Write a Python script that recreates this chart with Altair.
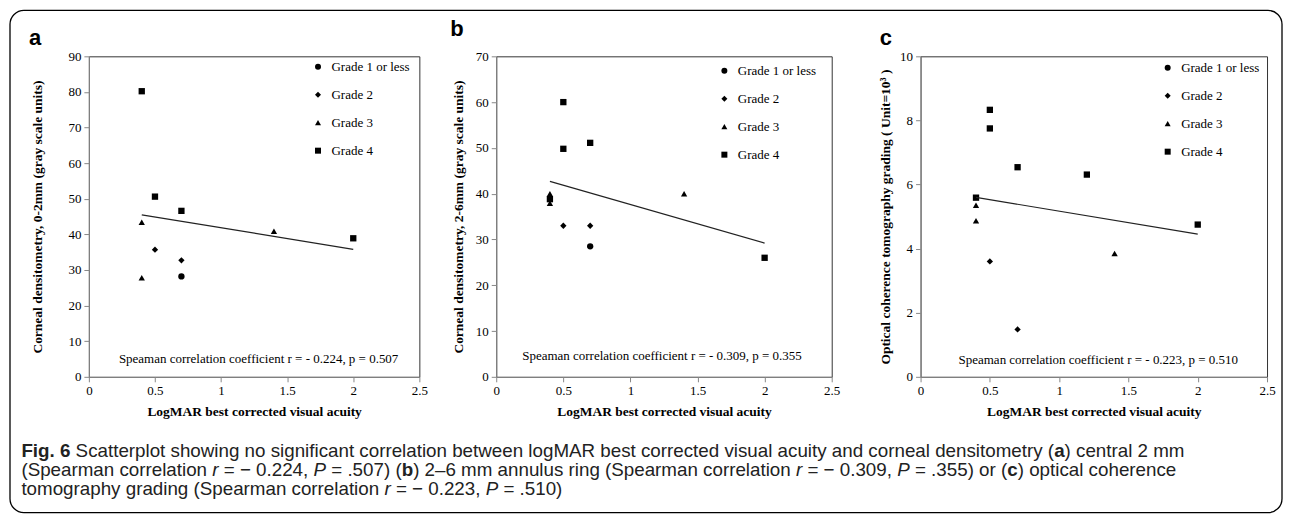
import altair as alt
import pandas as pd

GRADES = ["Grade 1 or less", "Grade 2", "Grade 3", "Grade 4"]
SHAPES = ["circle", "diamond", "triangle-up", "square"]
X_TICKS = [0, 0.5, 1, 1.5, 2, 2.5]
X_TITLE = "LogMAR  best corrected visual acuity"

# ---- panel a : corneal densitometry 0-2 mm
A_X = [0.7, 0.5, 0.7, 0.4, 0.4, 1.4, 0.4, 0.5, 0.7, 2.0]
A_Y = [28.2, 35.7, 32.7, 43.4, 27.8, 40.9, 80.2, 50.6, 46.6, 38.9]
A_G = ["Grade 1 or less", "Grade 2", "Grade 2", "Grade 3", "Grade 3", "Grade 3",
       "Grade 4", "Grade 4", "Grade 4", "Grade 4"]
A_FIT_X = [0.4, 2.0]
A_FIT_Y = [45.5, 35.8]
A_YTICKS = [0, 10, 20, 30, 40, 50, 60, 70, 80, 90]
A_YTITLE = "Corneal densitometry, 0-2mm (gray scale units)"
A_NOTE = "Speaman correlation coefficient  r = - 0.224, p = 0.507"

# ---- panel b : corneal densitometry 2-6 mm
B_X = [0.7, 0.5, 0.7, 0.4, 0.4, 1.4, 0.5, 0.5, 0.7, 0.4, 2.0]
B_Y = [28.5, 33.0, 33.0, 40.0, 37.9, 40.0, 60.0, 49.8, 51.1, 38.8, 26.0]
B_G = ["Grade 1 or less", "Grade 2", "Grade 2", "Grade 3", "Grade 3", "Grade 3",
       "Grade 4", "Grade 4", "Grade 4", "Grade 4", "Grade 4"]
B_FIT_X = [0.4, 2.0]
B_FIT_Y = [42.7, 29.2]
B_YTICKS = [0, 10, 20, 30, 40, 50, 60, 70]
B_YTITLE = "Corneal densitometry, 2-6mm (gray scale units)"
B_NOTE = "Speaman correlation coefficient  r = - 0.309, p = 0.355"

# ---- panel c : OCT grading
C_X = [0.5, 0.7, 0.4, 0.4, 1.4, 0.5, 0.5, 0.7, 1.2, 0.4, 2.0]
C_Y = [3.6, 1.48, 5.35, 4.87, 3.85, 8.33, 7.75, 6.54, 6.31, 5.59, 4.75]
C_G = ["Grade 2", "Grade 2", "Grade 3", "Grade 3", "Grade 3",
       "Grade 4", "Grade 4", "Grade 4", "Grade 4", "Grade 4", "Grade 4"]
C_FIT_X = [0.4, 2.0]
C_FIT_Y = [5.6, 4.45]
C_YTICKS = [0, 2, 4, 6, 8, 10]
C_YTITLE = "Optical coherence tomography  grading ( Unit=10\u00b3 )"
C_NOTE = "Speaman correlation coefficient  r = - 0.223, p = 0.510"

CAPTION = [
    [("b", "Fig. 6"),
     ("r", " Scatterplot showing no significant correlation between logMAR best corrected visual acuity and corneal densitometry ("),
     ("b", "a"), ("r", ") central 2 mm")],
    [("r", "(Spearman correlation "), ("i", "r"), ("r", " = \u2212 0.224, "), ("i", "P"),
     ("r", " = .507) ("), ("b", "b"),
     ("r", ") 2\u20136 mm annulus ring (Spearman correlation "), ("i", "r"),
     ("r", " = \u2212 0.309, "), ("i", "P"), ("r", " = .355) or ("), ("b", "c"),
     ("r", ") optical coherence")],
    [("r", "tomography grading (Spearman correlation "), ("i", "r"),
     ("r", " = \u2212 0.223, "), ("i", "P"), ("r", " = .510)")],
]

SERIF = "Liberation Serif"
SANS = "Liberation Sans"

# Arial / Liberation Sans advance widths (1/1000 em) for caption layout
REG_W = {" ": 278, "(": 333, ")": 333, ",": 278, "-": 333, ".": 278, "=": 584,
         "\u2013": 556, "\u2212": 584,
         "A": 667, "B": 667, "C": 722, "D": 722, "E": 667, "F": 611, "G": 778, "H": 722,
         "I": 278, "L": 556, "M": 833, "P": 667, "R": 722, "S": 667, "T": 611,
         "a": 556, "b": 556, "c": 500, "d": 556, "e": 556, "f": 278, "g": 556, "h": 556,
         "i": 222, "j": 222, "k": 500, "l": 222, "m": 833, "n": 556, "o": 556, "p": 556,
         "q": 556, "r": 333, "s": 500, "t": 278, "u": 556, "v": 500, "w": 722, "x": 500,
         "y": 500, "z": 500}
for d in "0123456789":
    REG_W[d] = 556
BOLD_W = dict(REG_W)
BOLD_W.update({"F": 611, "i": 278, "g": 611, "a": 556, "b": 611, "c": 556})


def em(text, style):
    tbl = BOLD_W if style == "b" else REG_W
    return sum(tbl.get(ch, 556) for ch in text) / 1000.0


LABEL_EXPR = "'' + datum.value"


def panel(px, py, pg, fx, fy, yticks, ytitle, note, w, h, tpad, leg, letter, let_xy,
          note_xy, extra=()):
    pts_df = pd.DataFrame({"x": px, "y": py, "grade": pg})
    fit_df = pd.DataFrame({"x": fx, "y": fy})
    xs = alt.Scale(domain=[0, 2.5], nice=False, zero=False)
    ys = alt.Scale(domain=[yticks[0], yticks[-1]], nice=False)
    xa = alt.Axis(values=X_TICKS, labelExpr=LABEL_EXPR, title=X_TITLE, labelFlush=False,
                  labelOverlap=False, titlePadding=7)
    ya = alt.Axis(values=yticks, labelExpr=LABEL_EXPR, title=ytitle, labelFlush=False,
                  labelOverlap=False, labelBound=False, tickCount=len(yticks),
                  titlePadding=tpad)
    pts = alt.Chart(pts_df).mark_point(filled=True, color="black", opacity=1, size=40).encode(
        x=alt.X("x:Q", scale=xs, axis=xa),
        y=alt.Y("y:Q", scale=ys, axis=ya),
        shape=alt.Shape("grade:N", scale=alt.Scale(domain=GRADES, range=SHAPES),
                        legend=alt.Legend(orient="none", legendX=leg[0], legendY=leg[1], title=None,
                                          labelFont=SERIF, labelFontSize=13, labelColor="black",
                                          symbolSize=36, symbolFillColor="black",
                                          symbolStrokeColor="black", rowPadding=14,
                                          labelOffset=7, padding=0)))
    line = alt.Chart(fit_df).mark_line(color="#222", strokeWidth=1.2).encode(
        x=alt.X("x:Q", scale=xs, axis=xa), y=alt.Y("y:Q", scale=ys, axis=ya))
    let_l = alt.Chart(pd.DataFrame({"t": [letter]})).mark_text(
        font=SANS, fontWeight="bold", fontSize=22, align="left", baseline="alphabetic",
        color="black").encode(x=alt.value(let_xy[0]), y=alt.value(let_xy[1]), text="t:N")
    note_l = alt.Chart(pd.DataFrame({"t": [note]})).mark_text(
        font=SERIF, fontSize=13, align="center", baseline="middle", color="black").encode(
        x=alt.value(note_xy[0]), y=alt.value(note_xy[1]), text="t:N")
    return alt.layer(pts, line, let_l, note_l, *extra).properties(
        width=w, height=h, view=alt.ViewBackground(stroke="#333", strokeWidth=1))


# ---- caption (placed in panel a's coordinates, below the plots)
cap_layers = []
fs = 0.951 * 1225.0 / sum(em(t, s) for s, t in CAPTION[0])
base_y = [401.3, 420.3, 439.8]
x0 = -67.6
for li, segs in enumerate(CAPTION):
    x = x0
    for style, text in segs:
        lead = len(text) - len(text.lstrip(" "))
        if lead:
            x += em(text[:lead], style) * fs
            text = text[lead:]
        kw = dict(font=SANS, fontSize=fs, align="left", baseline="alphabetic", color="#222")
        if style == "b":
            kw["fontWeight"] = "bold"
        if style == "i":
            kw["fontStyle"] = "italic"
        cap_layers.append(alt.Chart(pd.DataFrame({"t": [text]})).mark_text(**kw).encode(
            x=alt.value(x), y=alt.value(base_y[li]), text="t:N"))
        x += em(text, style) * fs

border = alt.Chart(pd.DataFrame({"k": [0]})).mark_rect(
    filled=False, stroke="black", strokeWidth=1.3, cornerRadius=14).encode(
    x=alt.value(-79), x2=alt.value(1195), y=alt.value(-46), y2=alt.value(457))

pa = panel(A_X, A_Y, A_G, A_FIT_X, A_FIT_Y, A_YTICKS, A_YTITLE, A_NOTE, 331, 321, 23,
           (223, 4), "a", (-60, -11), (170, 303), extra=cap_layers + [border])
pb = panel(B_X, B_Y, B_G, B_FIT_X, B_FIT_Y, B_YTICKS, B_YTITLE, B_NOTE, 336, 321, 10,
           (222, 8), "b", (-46, -20), (166, 300))
pc = panel(C_X, C_Y, C_G, C_FIT_X, C_FIT_Y, C_YTICKS, C_YTITLE, C_NOTE, 347, 321, 7,
           (241, 5), "c", (-41, -11), (178, 304))

row_bc = alt.hconcat(pb, pc, spacing=89, bounds="flush").resolve_scale(
    shape="independent").resolve_legend(shape="independent")
chart = alt.hconcat(pa, row_bc, spacing=77, bounds="flush").resolve_scale(
    shape="independent").resolve_legend(shape="independent").properties(
    padding=0, background="white"
).configure_view(strokeWidth=0).configure_axis(
    labelFont=SERIF, labelFontSize=13, labelColor="black", labelPadding=3,
    labelOverlap=False,
    titleFont=SERIF, titleFontSize=13.5, titleFontWeight="bold", titleColor="black",
    domainColor="#888", tickColor="#888", tickSize=5, grid=False)

chart.save("out.html", embed_options={"renderer": "svg", "actions": False})
